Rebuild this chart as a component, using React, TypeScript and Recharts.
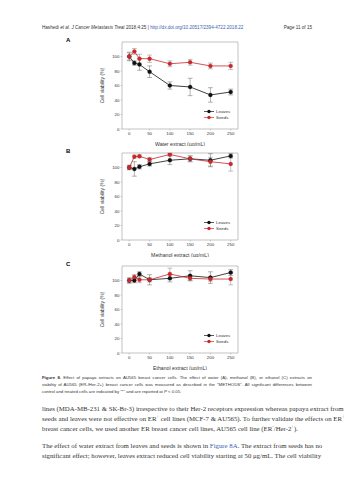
import React from 'react';
import { LineChart, Line, XAxis, YAxis, ErrorBar, ReferenceArea, Legend } from 'recharts';

const concentrations = [0, 12.5, 25, 50, 100, 150, 200, 250];
const xTicks = [0, 50, 100, 150, 200, 250];
const yTicks = [0, 20, 40, 60, 80, 100];

const waterLeaves = [100, 91, 89, 79, 60, 58, 47, 51];
const waterLeavesErr = [5, 3, 8, 8, 5, 12, 10, 4];
const waterSeeds = [100, 107, 97, 97, 90, 92, 87, 87];
const waterSeedsErr = [6, 4, 6, 5, 4, 4, 4, 5];

const methanolLeaves = [100, 98, 101, 105, 110, 112, 110, 116];
const methanolLeavesErr = [3, 10, 3, 3, 6, 4, 9, 3];
const methanolSeeds = [100, 115, 115.5, 111, 118, 112, 108, 105];
const methanolSeedsErr = [3, 2, 2, 3, 2, 4, 6, 10];

const ethanolLeaves = [100, 100, 109, 101, 103, 106.5, 104, 111];
const ethanolLeavesErr = [3, 3, 3, 7, 5, 7, 8, 4];
const ethanolSeeds = [100, 105, 101, 101, 109, 103, 102, 102];
const ethanolSeedsErr = [4, 3, 4, 3, 8, 3, 3, 8];

const LEAVES = '#111111';
const SEEDS = '#c8282c';
const FONT = 'Arial, "Liberation Sans", sans-serif';

const FRAME_LEFT = 82;
const FRAME_RIGHT = 238;
const FRAME_H = 87;
const Y_AXIS_W = 14;
const X_DOMAIN: [number, number] = [-18, 268];

function buildRows(leaves: number[], leavesErr: number[], seeds: number[], seedsErr: number[]) {
  return concentrations.map((c, i) => ({
    conc: c,
    leaves: leaves[i],
    leavesErr: leavesErr[i],
    seeds: seeds[i],
    seedsErr: seedsErr[i],
  }));
}

const LegendContent = (props: any) => {
  const items = props.payload || [];
  return (
    <div>
      {items.map((p: any) => (
        <div key={p.value} style={{ display: 'flex', alignItems: 'center', height: 5.5, fontSize: 4.4, fontFamily: FONT, color: '#333' }}>
          <svg width={10} height={5}>
            <line x1={0} y1={2.5} x2={10} y2={2.5} stroke={p.color} strokeWidth={0.7} />
            <circle cx={5} cy={2.5} r={1.7} fill={p.color} />
          </svg>
          <span style={{ marginLeft: 2, lineHeight: '5.5px' }}>{p.value}</span>
        </div>
      ))}
    </div>
  );
};

type PanelProps = {
  letter: string;
  title: string;
  frameTop: number;
  leaves: number[];
  leavesErr: number[];
  seeds: number[];
  seedsErr: number[];
};

function Panel({ letter, title, frameTop, leaves, leavesErr, seeds, seedsErr }: PanelProps) {
  const data = buildRows(leaves, leavesErr, seeds, seedsErr);
  const chartTop = frameTop - 5;
  return (
    <>
      <div style={{ position: 'absolute', left: 66, top: frameTop - 5, fontSize: 6, fontWeight: 'bold', fontFamily: FONT, lineHeight: '7px' }}>
        {letter}
      </div>
      <div style={{ position: 'absolute', left: 0, top: chartTop }}>
        <LineChart
          width={353}
          height={5 + FRAME_H + 17}
          data={data}
          margin={{ top: 5, right: 353 - FRAME_RIGHT, bottom: 0, left: FRAME_LEFT - Y_AXIS_W }}
        >
          <XAxis
            dataKey="conc"
            type="number"
            domain={X_DOMAIN}
            ticks={xTicks}
            allowDataOverflow
            height={17}
            axisLine={false}
            tickLine={{ stroke: '#999', strokeWidth: 0.5 }}
            tickSize={1.5}
            tickMargin={1}
            tick={{ fontSize: 4.4, fill: '#333', fontFamily: FONT }}
            label={{ value: title, position: 'insideBottom', offset: 0, fontSize: 5.2, fill: '#333', fontFamily: FONT }}
          />
          <YAxis
            type="number"
            domain={[0, 120]}
            ticks={yTicks}
            allowDataOverflow
            width={Y_AXIS_W}
            axisLine={false}
            tickLine={{ stroke: '#999', strokeWidth: 0.5 }}
            tickSize={1.5}
            tickMargin={1}
            tick={{ fontSize: 4.4, fill: '#333', fontFamily: FONT }}
            label={{
              value: 'Cell viability (%)',
              angle: -90,
              position: 'left',
              offset: 6,
              fontSize: 5,
              fill: '#333',
              fontFamily: FONT,
              style: { textAnchor: 'middle' },
            }}
          />
          <ReferenceArea x1={X_DOMAIN[0]} x2={X_DOMAIN[1]} y1={0} y2={120} fill="none" stroke="#aaaaaa" strokeWidth={0.7} ifOverflow="visible" />
          <Legend
            layout="vertical"
            verticalAlign="top"
            align="left"
            content={<LegendContent />}
            wrapperStyle={{ position: 'absolute', left: 204, top: 5 + FRAME_H - 20, width: 40 }}
          />
          <Line
            name="Leaves"
            dataKey="leaves"
            stroke={LEAVES}
            strokeWidth={0.8}
            dot={{ r: 2, fill: LEAVES, stroke: LEAVES, strokeWidth: 0.3 }}
            isAnimationActive={false}
          >
            <ErrorBar dataKey="leavesErr" direction="y" width={2.4} stroke="#555" strokeWidth={0.45} />
          </Line>
          <Line
            name="Seeds"
            dataKey="seeds"
            stroke={SEEDS}
            strokeWidth={0.8}
            dot={{ r: 2, fill: SEEDS, stroke: SEEDS, strokeWidth: 0.3 }}
            isAnimationActive={false}
          >
            <ErrorBar dataKey="seedsErr" direction="y" width={2.4} stroke="#777" strokeWidth={0.45} />
          </Line>
        </LineChart>
      </div>
    </>
  );
}

const bodyStyle: React.CSSProperties = {
  position: 'absolute',
  left: 42,
  width: 270,
  fontFamily: '"Liberation Serif", "DejaVu Serif", serif',
  fontSize: 6.8,
  color: '#333',
  whiteSpace: 'nowrap',
  lineHeight: '10px',
};

const captionStyle: React.CSSProperties = {
  position: 'absolute',
  left: 42,
  width: 270,
  fontFamily: FONT,
  fontSize: 4.3,
  color: '#333',
  whiteSpace: 'nowrap',
  lineHeight: '7px',
};

const supStyle: React.CSSProperties = { fontSize: 4.5, verticalAlign: 'super', lineHeight: 0 };

export default function App() {
  return (
    <div style={{ position: 'absolute', left: 0, top: 0, width: 353, height: 480, background: '#fff', overflow: 'hidden' }}>
      <div style={{ position: 'absolute', left: 42, top: 24.5, fontFamily: FONT, fontSize: 4.6, color: '#333', whiteSpace: 'nowrap', lineHeight: '5px' }}>
        Hashedi <i>et al. J Cancer Metastasis Treat</i> 2018;4:25 | <span style={{ color: '#3b63b0' }}>http://dx.doi.org/10.20517/2394-4722.2018.22</span>
      </div>
      <div style={{ position: 'absolute', left: 252, width: 60, top: 24.5, textAlign: 'right', fontFamily: FONT, fontSize: 4.6, color: '#333', whiteSpace: 'nowrap', lineHeight: '5px' }}>
        Page 11 of 15
      </div>

      <Panel letter="A" title="Water extract (µg/mL)" frameTop={42} leaves={waterLeaves} leavesErr={waterLeavesErr} seeds={waterSeeds} seedsErr={waterSeedsErr} />
      <Panel letter="B" title="Methanol extract (µg/mL)" frameTop={153} leaves={methanolLeaves} leavesErr={methanolLeavesErr} seeds={methanolSeeds} seedsErr={methanolSeedsErr} />
      <Panel letter="C" title="Ethanol extract (µg/mL)" frameTop={266} leaves={ethanolLeaves} leavesErr={ethanolLeavesErr} seeds={ethanolSeeds} seedsErr={ethanolSeedsErr} />

      <div style={{ ...captionStyle, top: 373.5, textAlignLast: 'justify' }}>
        <b>Figure 8.</b> Effect of papaya extracts on AU565 breast cancer cells. The effect of water (A), methanol (B), or ethanol (C) extracts on
      </div>
      <div style={{ ...captionStyle, top: 380.5, textAlignLast: 'justify' }}>
        viability of AU565 (ER-/Her-2+) breast cancer cells was measured as described in the "METHODS". All significant differences between
      </div>
      <div style={{ ...captionStyle, top: 387.5 }}>
        control and treated cells are indicated by "*" and are reported at <i>P</i> &lt; 0.05.
      </div>

      <div style={{ ...bodyStyle, top: 404, textAlignLast: 'justify' }}>
        lines (MDA-MB-231 &amp; SK-Br-3) irrespective to their Her-2 receptors expression whereas papaya extract from
      </div>
      <div style={{ ...bodyStyle, top: 414, textAlignLast: 'justify' }}>
        seeds and leaves were not effective on ER<span style={supStyle}>+</span> cell lines (MCF-7 &amp; AU565). To further validate the effects on ER<span style={supStyle}>+</span>
      </div>
      <div style={{ ...bodyStyle, top: 424 }}>
        breast cancer cells, we used another ER breast cancer cell lines, AU565 cell line (ER<span style={supStyle}>-</span>/Her-2<span style={supStyle}>+</span>).
      </div>
      <div style={{ ...bodyStyle, top: 441, textAlignLast: 'justify' }}>
        The effect of water extract from leaves and seeds is shown in <span style={{ color: '#3b63b0' }}>Figure 8A</span>. The extract from seeds has no
      </div>
      <div style={{ ...bodyStyle, top: 451, textAlignLast: 'justify' }}>
        significant effect; however, leaves extract reduced cell viability starting at 50 μg/mL. The cell viability
      </div>
    </div>
  );
}
